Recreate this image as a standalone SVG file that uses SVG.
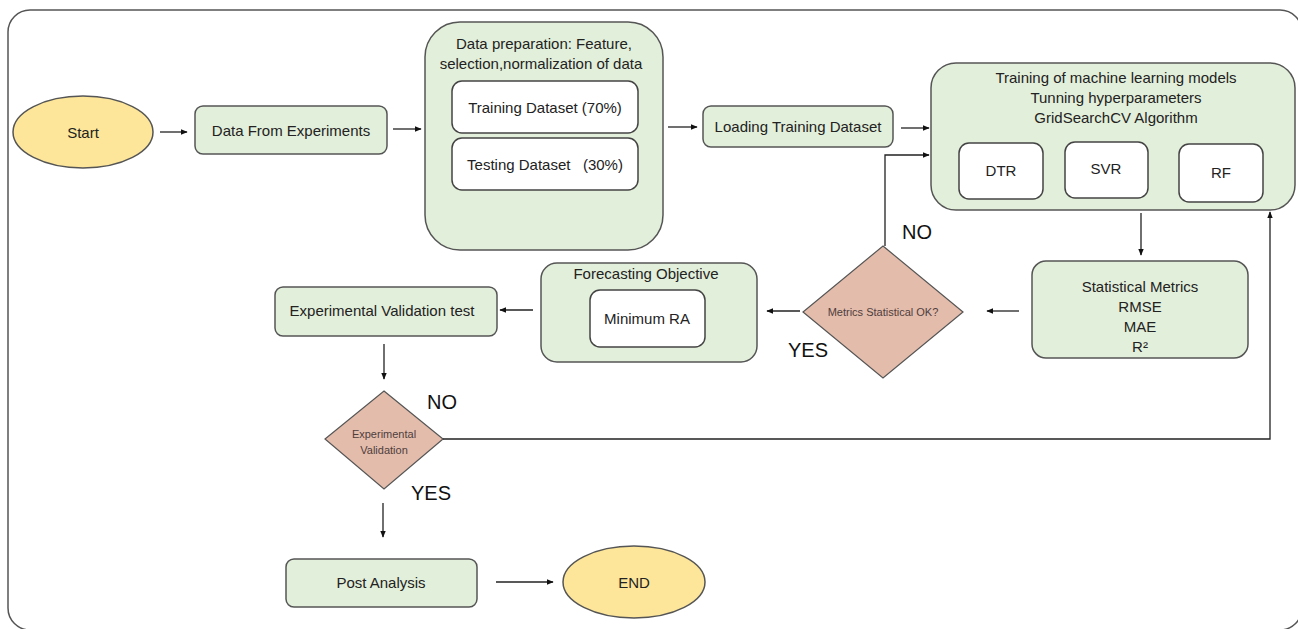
<svg xmlns="http://www.w3.org/2000/svg" width="1298" height="629" viewBox="0 0 1298 629">
<defs>
<marker id="arr" viewBox="0 0 10 10" refX="9" refY="5" markerWidth="7" markerHeight="7" orient="auto" markerUnits="userSpaceOnUse">
<path d="M0,1 L10,5 L0,9 z" fill="#111"/>
</marker>
<style>
.t{font-family:"Liberation Sans",Arial,sans-serif;font-size:15px;fill:#222;text-anchor:middle;dominant-baseline:central}
.g{fill:#e2efda;stroke:#555;stroke-width:1.5}
.w{fill:#ffffff;stroke:#444;stroke-width:1.5}
.y{fill:#fde699;stroke:#555;stroke-width:1.5}
.d{fill:#e4bcab;stroke:#555;stroke-width:1.2}
.dt{font-family:"Liberation Sans",Arial,sans-serif;font-size:11px;fill:#4e3e3e;text-anchor:middle;dominant-baseline:central}
.lab{font-family:"Liberation Sans",Arial,sans-serif;font-size:20px;fill:#111;text-anchor:middle;dominant-baseline:central}
.c{fill:none;stroke:#222;stroke-width:1.3}
</style>
</defs>
<rect width="1298" height="629" fill="#fff"/>
<rect x="8" y="10" width="1294" height="620" rx="22" fill="none" stroke="#555" stroke-width="1.5"/>

<g id="start"><ellipse class="y" cx="83" cy="132" rx="70" ry="36"/><text class="t" x="83" y="132">Start</text></g>
<g id="data"><rect class="g" x="195" y="106" width="192" height="48" rx="8"/><text class="t" x="291" y="130">Data From Experiments</text></g>
<g id="prep"><rect class="g" x="425" y="22" width="238" height="228" rx="35"/>
<text class="t" x="544" y="43">Data preparation: Feature,</text>
<text class="t" x="541" y="63">selection,normalization of data</text></g>
<g id="train"><rect class="w" x="452" y="81" width="186" height="52" rx="10"/><text class="t" x="545" y="107">Training Dataset (70%)</text></g>
<g id="test"><rect class="w" x="452" y="138" width="186" height="52" rx="10"/><text class="t" x="545" y="164" xml:space="preserve">Testing Dataset   (30%)</text></g>
<g id="load"><rect class="g" x="703" y="106" width="190" height="41" rx="8"/><text class="t" x="798" y="126">Loading Training Dataset</text></g>
<g id="models"><rect class="g" x="931" y="63" width="364" height="147" rx="25"/>
<text class="t" x="1116" y="77">Training of machine learning models</text>
<text class="t" x="1116" y="97">Tunning hyperparameters</text>
<text class="t" x="1116" y="117">GridSearchCV Algorithm</text></g>
<g id="dtr"><rect class="w" x="959" y="143" width="84" height="56" rx="10"/><text class="t" x="1001" y="170">DTR</text></g>
<g id="svr"><rect class="w" x="1065" y="142" width="83" height="56" rx="10"/><text class="t" x="1106" y="168">SVR</text></g>
<g id="rf"><rect class="w" x="1179" y="144" width="84" height="58" rx="10"/><text class="t" x="1221" y="172">RF</text></g>
<g id="stats"><rect class="g" x="1032" y="261" width="216" height="97" rx="14"/>
<text class="t" x="1140" y="286">Statistical Metrics</text>
<text class="t" x="1140" y="306">RMSE</text>
<text class="t" x="1140" y="326">MAE</text>
<text class="t" x="1140" y="346">R²</text></g>
<g id="metricsok"><polygon class="d" points="883,246 963,312 883,378 803,312"/><text class="dt" x="883" y="312">Metrics Statistical OK?</text></g>
<g id="forecast"><rect class="g" x="541" y="263" width="216" height="99" rx="16"/><text class="t" x="646" y="273">Forecasting Objective</text></g>
<g id="minra"><rect class="w" x="590" y="290" width="115" height="57" rx="10"/><text class="t" x="647" y="318">Minimum RA</text></g>
<g id="evtest"><rect class="g" x="275" y="287" width="222" height="49" rx="8"/><text class="t" x="382" y="310">Experimental Validation test</text></g>
<g id="ev"><polygon class="d" points="384,391 443,439 384,489 325,439"/>
<text class="dt" x="384" y="434">Experimental</text><text class="dt" x="384" y="450">Validation</text></g>
<g id="post"><rect class="g" x="286" y="559" width="191" height="48" rx="8"/><text class="t" x="381" y="582">Post Analysis</text></g>
<g id="end"><ellipse class="y" cx="634" cy="582" rx="71" ry="36"/><text class="t" x="634" y="582">END</text></g>

<g id="connectors">
<path class="c" d="M160,132 H187" marker-end="url(#arr)"/>
<path class="c" d="M393,129 H421" marker-end="url(#arr)"/>
<path class="c" d="M668,127 H697" marker-end="url(#arr)"/>
<path class="c" d="M901,128 H929" marker-end="url(#arr)"/>
<path class="c" d="M885,246 V155 H929" marker-end="url(#arr)"/>
<path class="c" d="M1141,213 V255" marker-end="url(#arr)"/>
<path class="c" d="M1019,311 H987" marker-end="url(#arr)"/>
<path class="c" d="M800,311 H767" marker-end="url(#arr)"/>
<path class="c" d="M533,310 H500" marker-end="url(#arr)"/>
<path class="c" d="M384,344 V379" marker-end="url(#arr)"/>
<path class="c" d="M443,439 H1270 V212" marker-end="url(#arr)"/>
<path class="c" d="M383,503 V537" marker-end="url(#arr)"/>
<path class="c" d="M496,582 H553" marker-end="url(#arr)"/>
</g>
<g id="labels">
<text class="lab" x="917" y="232">NO</text>
<text class="lab" x="808" y="350">YES</text>
<text class="lab" x="442" y="402">NO</text>
<text class="lab" x="431" y="493">YES</text>
</g>
</svg>
